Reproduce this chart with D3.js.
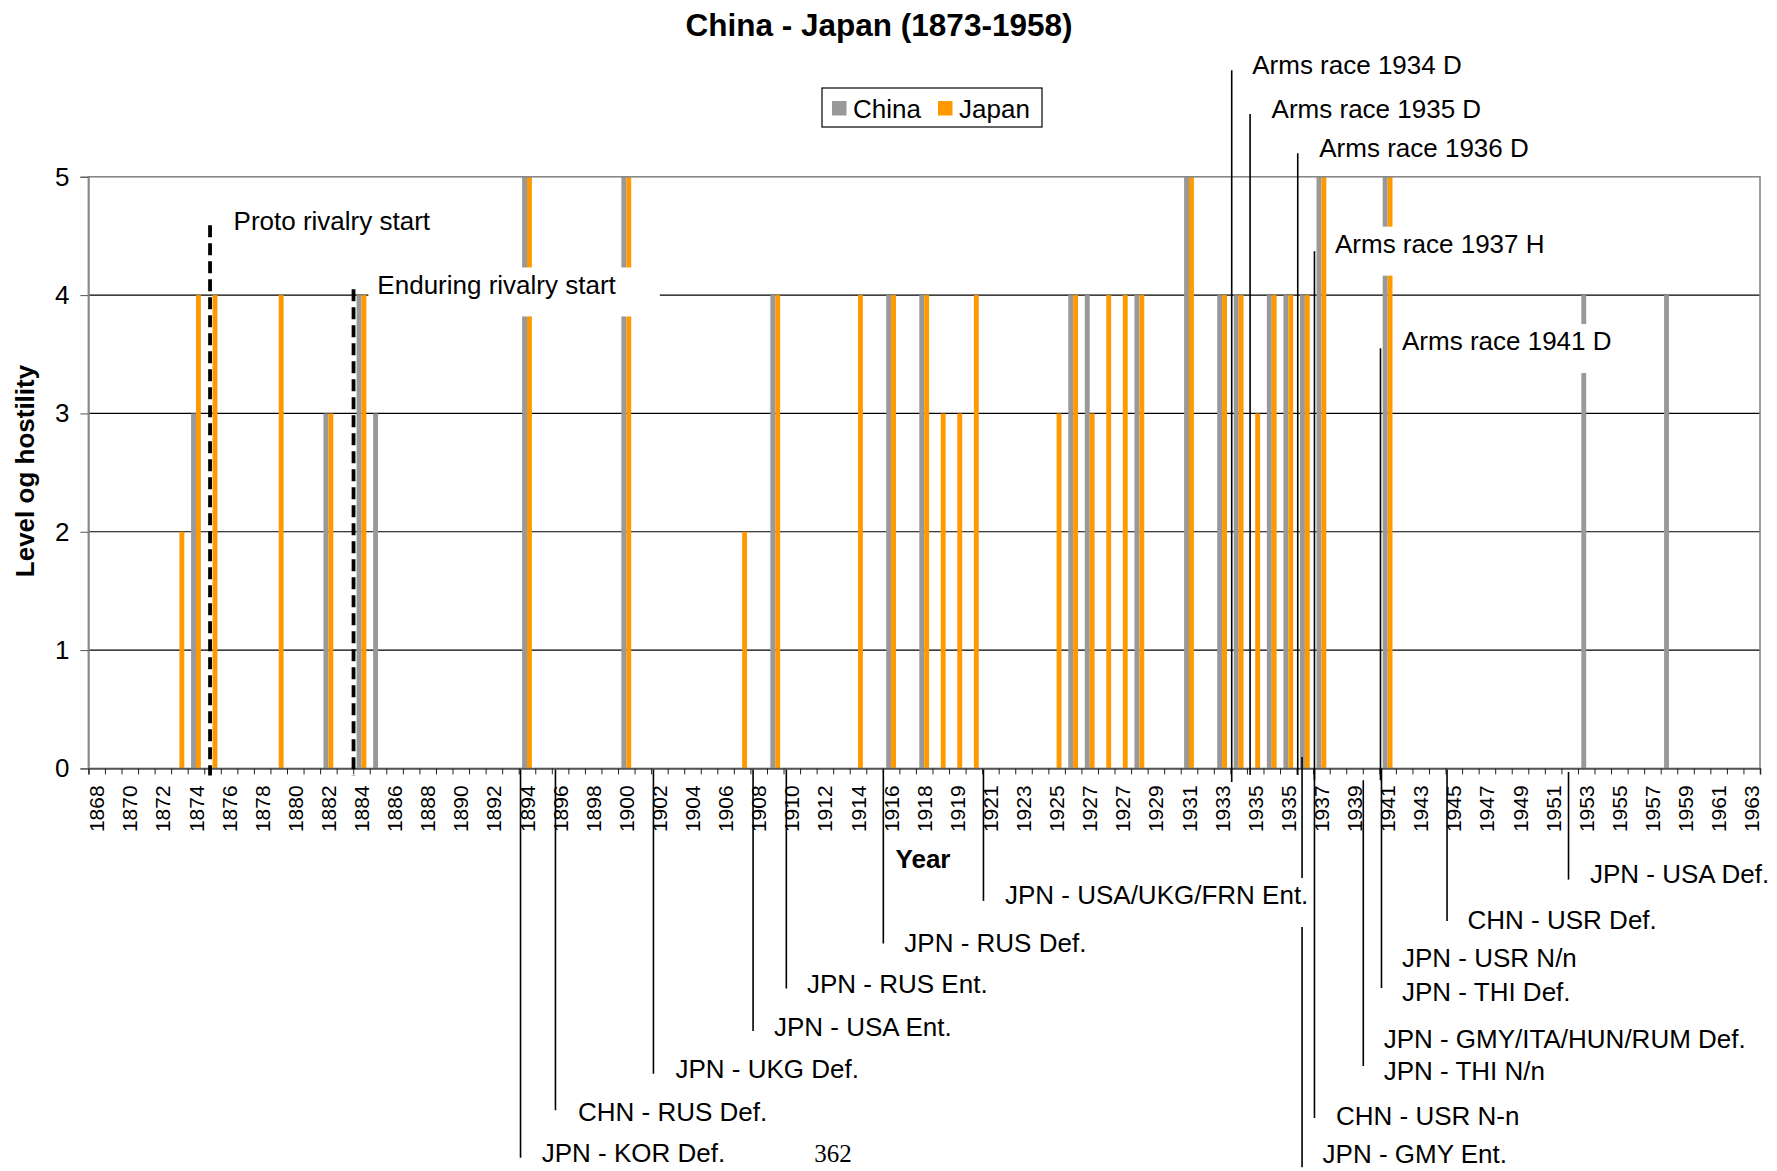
<!DOCTYPE html>
<html>
<head>
<meta charset="utf-8">
<title>China - Japan (1873-1958)</title>
<script src="https://d3js.org/d3.v7.min.js"></script>
<style>
    body { margin: 0; background: #fff; }
    svg { font-family: "Liberation Sans", Arial, sans-serif; }
</style>
</head>
<body>
<script>
    // one row per event year (some years repeat), only every 2nd label shown
    var years = ["1868","1869","1870","1871","1872","1873","1874","1875","1876","1877",
                 "1878","1879","1880","1881","1882","1883","1884","1885","1886","1887",
                 "1888","1889","1890","1891","1892","1893","1894","1895","1896","1897",
                 "1898","1899","1900","1901","1902","1903","1904","1905","1906","1907",
                 "1908","1909","1910","1911","1912","1913","1914","1915","1916","1917",
                 "1918","1918","1919","1920","1921","1922","1923","1924","1925","1926",
                 "1927","1927","1927","1928","1929","1930","1931","1932","1933","1934",
                 "1935","1935","1935","1936","1937","1938","1939","1940","1941","1942",
                 "1943","1944","1945","1946","1947","1948","1949","1950","1951","1952",
                 "1953","1954","1955","1956","1957","1958","1959","1960","1961","1962",
                 "1963"];

    var china = [0,0,0,0,0,0,3,0,0,0,
                 0,0,0,0,3,0,4,3,0,0,
                 0,0,0,0,0,0,5,0,0,0,
                 0,0,5,0,0,0,0,0,0,0,
                 0,4,0,0,0,0,0,0,4,0,
                 4,0,0,0,0,0,0,0,0,4,
                 4,0,0,4,0,0,5,0,4,4,
                 0,4,4,4,5,0,0,0,5,0,
                 0,0,0,0,0,0,0,0,0,0,
                 4,0,0,0,0,4,0,0,0,0,
                 0];

    var japan = [0,0,0,0,0,2,4,4,0,0,
                 0,4,0,0,3,0,4,0,0,0,
                 0,0,0,0,0,0,5,0,0,0,
                 0,0,5,0,0,0,0,0,0,2,
                 0,4,0,0,0,0,4,0,4,0,
                 4,3,3,4,0,0,0,0,3,4,
                 3,4,4,4,0,0,5,0,4,4,
                 3,4,4,4,5,0,0,0,5,0,
                 0,0,0,0,0,0,0,0,0,0,
                 0,0,0,0,0,0,0,0,0,0,
                 0];

    var seriesNames = ["China", "Japan"];
    var seriesColors = ["#999999", "#FF9900"];
    var yTicks = [0, 1, 2, 3, 4, 5];

    // annotation lines: t = position in category units, v1/v2 = level units
    var guideLines = [
        { t: 7.35,  v1: 4.59,  v2: -0.06, dashed: true },   // proto rivalry
        { t: 16.02, v1: 4.05,  v2: -0.06, dashed: true },   // enduring rivalry
        { t: 69.08, v1: 5.90,  v2: -0.115 },
        { t: 70.19, v1: 5.53,  v2: -0.056 },
        { t: 73.07, v1: 5.20,  v2: -0.056 },
        { t: 74.08, v1: 4.37,  v2: -0.10 },
        { t: 78.07, v1: 3.55,  v2: -0.10 },
        { t: 26.11, v1: -0.01, v2: -3.29 },
        { t: 28.22, v1: -0.01, v2: -2.89 },
        { t: 34.14, v1: -0.01, v2: -2.58 },
        { t: 40.16, v1: -0.01, v2: -2.22 },
        { t: 42.17, v1: -0.01, v2: -1.86 },
        { t: 48.03, v1: -0.01, v2: -1.48 },
        { t: 54.08, v1: -0.01, v2: -1.12 },
        { t: 73.33, v1: 0.096, v2: -3.37 },
        { t: 74.08, v1: 0,     v2: -2.955 },
        { t: 77.03, v1: -0.10, v2: -2.515 },
        { t: 78.13, v1: 0,     v2: -1.856 },
        { t: 82.09, v1: -0.01, v2: -1.29 },
        { t: 89.43, v1: -0.03, v2: -0.94 }
    ];

    var notes = [
        { text: "Proto rivalry start",        t: 8.77,  v: 4.626 },
        { text: "Enduring rivalry start",     t: 17.46, v: 4.090, box: true, padL: 9, padR: 44 },
        { text: "Arms race 1934 D",           t: 70.32, v: 5.948 },
        { text: "Arms race 1935 D",           t: 71.49, v: 5.575 },
        { text: "Arms race 1936 D",           t: 74.37, v: 5.249 },
        { text: "Arms race 1937 H",           t: 75.32, v: 4.435, box: true, padL: 6, padR: 30 },
        { text: "Arms race 1941 D",           t: 79.37, v: 3.612, box: true, padL: 6, padR: 30 },
        { text: "JPN - KOR Def.",             t: 27.39, v: -3.25 },
        { text: "CHN - RUS Def.",             t: 29.58, v: -2.904 },
        { text: "JPN - UKG Def.",             t: 35.47, v: -2.538 },
        { text: "JPN - USA Ent.",             t: 41.42, v: -2.184 },
        { text: "JPN - RUS Ent.",             t: 43.42, v: -1.820 },
        { text: "JPN - RUS Def.",             t: 49.30, v: -1.476 },
        { text: "JPN - USA/UKG/FRN Ent.",     t: 55.38, v: -1.070, box: true, padL: 6, padR: 2 },
        { text: "JPN - GMY Ent.",             t: 74.57, v: -3.255 },
        { text: "CHN - USR N-n",              t: 75.38, v: -2.938 },
        { text: "JPN - GMY/ITA/HUN/RUM Def.", t: 78.26, v: -2.287 },
        { text: "JPN - THI N/n",              t: 78.26, v: -2.558 },
        { text: "JPN - USR N/n",              t: 79.37, v: -1.599 },
        { text: "JPN - THI Def.",             t: 79.37, v: -1.886 },
        { text: "CHN - USR Def.",             t: 83.33, v: -1.281 },
        { text: "JPN - USA Def.",             t: 90.73, v: -0.891 }
    ];

    var outerWidth = 1777;
    var outerHeight = 1171;
    var plot = { left: 88.4, right: 1760, top: 176.8, bottom: 768.4 };

    var svg = d3.select("body").append("svg")
        .attr("width", outerWidth)
        .attr("height", outerHeight);

    svg.append("rect")
        .attr("width", outerWidth)
        .attr("height", outerHeight)
        .attr("fill", "#fff");

    var idx = d3.range(years.length);

    var x = d3.scaleBand()
        .domain(idx)
        .range([plot.left, plot.right]);
    var xs = d3.scaleBand()
        .domain(seriesNames)
        .range([0, x.bandwidth()])
        .paddingOuter(0.69);
    var xt = d3.scaleLinear()          // continuous category position, for ticks and notes
        .domain([0, years.length])
        .range([plot.left, plot.right]);
    var y = d3.scaleLinear()
        .domain([0, 5])
        .range([plot.bottom, plot.top]);

    // gridlines
    svg.append("g").selectAll("line")
        .data(yTicks.filter(function (d) { return d > 0 && d < 5; }))
        .enter().append("line")
        .attr("x1", plot.left)
        .attr("x2", plot.right)
        .attr("y1", function (d) { return y(d); })
        .attr("y2", function (d) { return y(d); })
        .style("stroke", "#000")
        .style("stroke-width", 1.2);

    // bars
    var rows = idx.map(function (i) { return { i: i, vals: [china[i], japan[i]] }; });
    var groups = svg.append("g").selectAll("g")
        .data(rows)
        .enter().append("g")
        .attr("transform", function (d) { return "translate(" + x(d.i) + ",0)"; });
    groups.selectAll("rect")
        .data(function (d) { return d.vals.map(function (v, k) { return { k: k, v: v }; }); })
        .enter().append("rect")
        .filter(function (d) { return d.v > 0; })
        .attr("x", function (d) { return xs(seriesNames[d.k]); })
        .attr("width", xs.bandwidth())
        .attr("y", function (d) { return y(d.v); })
        .attr("height", function (d) { return y(0) - y(d.v); })
        .style("fill", function (d) { return seriesColors[d.k]; });

    // plot border
    svg.append("rect")
        .attr("x", plot.left)
        .attr("y", plot.top)
        .attr("width", plot.right - plot.left)
        .attr("height", plot.bottom - plot.top)
        .attr("fill", "none")
        .style("stroke", "#888")
        .style("stroke-width", 1.6);

    // y axis
    var yAxis = svg.append("g")
        .attr("transform", "translate(" + plot.left + ",0)")
        .call(d3.axisLeft(y).tickValues(yTicks).tickFormat(d3.format("d")).tickSize(8).tickPadding(11));
    yAxis.selectAll("text").style("font-size", "26px").style("fill", "#000");
    yAxis.select(".domain").style("stroke", "#888").style("stroke-width", 1.6);
    yAxis.selectAll(".tick line").style("stroke", "#555");

    // x axis: tick marks at category edges
    var xTicks = svg.append("g")
        .attr("transform", "translate(0," + plot.bottom + ")")
        .call(d3.axisBottom(xt).tickValues(d3.range(years.length + 1)).tickSize(6).tickFormat(""));
    xTicks.select(".domain").style("stroke", "#555").style("stroke-width", 1.6);
    xTicks.selectAll(".tick line").style("stroke", "#222");

    // x axis labels, every second category, rotated
    var xLabels = svg.append("g")
        .attr("transform", "translate(0," + plot.bottom + ")")
        .call(d3.axisBottom(x)
            .tickValues(idx.filter(function (i) { return i % 2 === 0; }))
            .tickFormat(function (i) { return years[i]; })
            .tickSize(0));
    xLabels.select(".domain").remove();
    xLabels.selectAll("text")
        .attr("transform", "rotate(-90)")
        .attr("x", -17)
        .attr("y", 0)
        .attr("dy", "0.36em")
        .style("text-anchor", "end")
        .style("font-size", "21px")
        .style("fill", "#000");

    // axis titles
    svg.append("text")
        .attr("x", 923)
        .attr("y", 868)
        .style("text-anchor", "middle")
        .style("font-size", "26px")
        .style("font-weight", "bold")
        .text("Year");
    svg.append("text")
        .attr("transform", "translate(25,471) rotate(-90)")
        .attr("dy", "0.36em")
        .style("text-anchor", "middle")
        .style("font-size", "26px")
        .style("font-weight", "bold")
        .text("Level og hostility");

    // title
    svg.append("text")
        .attr("x", 879)
        .attr("y", 36)
        .style("text-anchor", "middle")
        .style("font-size", "31.5px")
        .style("font-weight", "bold")
        .text("China - Japan (1873-1958)");

    // legend
    var legend = svg.append("g").attr("transform", "translate(822,88)");
    legend.append("rect")
        .attr("width", 220)
        .attr("height", 39)
        .attr("fill", "#fff")
        .style("stroke", "#000")
        .style("stroke-width", 1.2);
    var legendX = [10, 116];
    seriesNames.forEach(function (name, k) {
        legend.append("rect")
            .attr("x", legendX[k])
            .attr("y", 13)
            .attr("width", 14.5)
            .attr("height", 14.5)
            .style("fill", seriesColors[k]);
        legend.append("text")
            .attr("x", legendX[k] + 21)
            .attr("y", 20.5)
            .attr("dy", "0.36em")
            .style("font-size", "26px")
            .text(name);
    });

    // annotation lines
    svg.append("g").selectAll("line")
        .data(guideLines)
        .enter().append("line")
        .attr("x1", function (d) { return xt(d.t); })
        .attr("x2", function (d) { return xt(d.t); })
        .attr("y1", function (d) { return y(d.v1); })
        .attr("y2", function (d) { return y(d.v2); })
        .style("stroke", "#000")
        .style("stroke-width", function (d) { return d.dashed ? 3.8 : 1.6; })
        .style("stroke-dasharray", function (d) { return d.dashed ? "12,6" : null; });

    // annotation texts (some sit in white boxes that hide what is behind)
    var noteG = svg.append("g").selectAll("g")
        .data(notes)
        .enter().append("g")
        .attr("transform", function (d) { return "translate(" + xt(d.t) + "," + y(d.v) + ")"; });
    noteG.append("text")
        .attr("dy", "0.36em")
        .style("font-size", "26px")
        .style("fill", "#000")
        .text(function (d) { return d.text; });
    noteG.filter(function (d) { return d.box; })
        .insert("rect", "text")
        .attr("x", function (d) { return -d.padL; })
        .attr("y", -17)
        .attr("width", function (d) {
            return this.parentNode.querySelector("text").getComputedTextLength() + d.padL + d.padR;
        })
        .attr("height", 49)
        .attr("fill", "#fff");

    // page number printed under the chart
    svg.append("text")
        .attr("x", 833)
        .attr("y", 1153)
        .attr("dy", "0.36em")
        .style("text-anchor", "middle")
        .style("font-family", "'Liberation Serif', 'Times New Roman', serif")
        .style("font-size", "25px")
        .text("362");
</script>
</body>
</html>
